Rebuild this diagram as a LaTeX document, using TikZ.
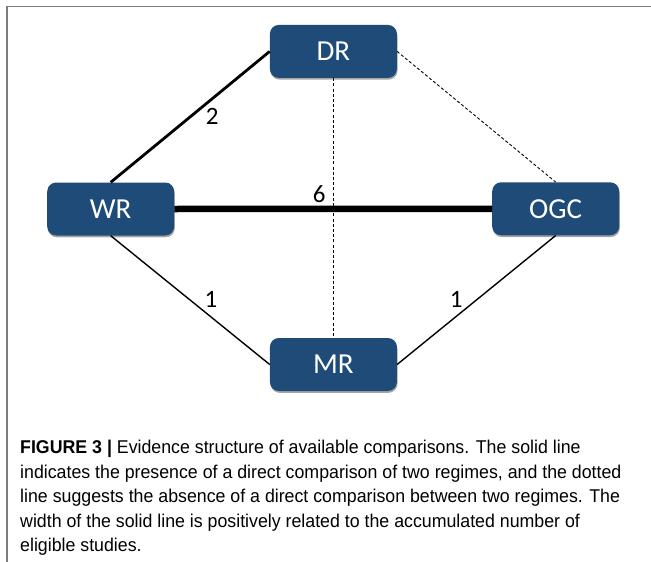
\documentclass[tikz,border=0pt]{standalone}
\usepackage{fontspec}
\setmainfont{Carlito}
\newfontfamily\capfont[FakeStretch=0.96]{Liberation Sans}
\usetikzlibrary{shadows}
\definecolor{boxblue}{RGB}{31,75,120}
\definecolor{framegray}{RGB}{125,125,125}
\tikzset{
  regime/.style={draw=none, fill=boxblue, rounded corners=9pt, minimum width=127pt, minimum height=53pt, inner sep=0pt,
    text=white, font=\fontsize{29}{31}\selectfont,
    drop shadow={shadow xshift=0.6pt, shadow yshift=-1.8pt, opacity=0.35, fill=black}},
  edgelabel/.style={font=\fontsize{25}{27}\selectfont, inner sep=0pt},
  thinlink/.style={line width=1.4pt},
  midlink/.style={line width=2.8pt},
  thicklink/.style={line width=6.5pt},
  nolink/.style={line width=0.9pt, dash pattern=on 3pt off 2.2pt},
  capline/.style={anchor=base west, inner sep=0pt, font=\capfont\fontsize{18.5}{24.5}\selectfont}
}
\begin{document}
\begin{tikzpicture}[x=1pt,y=-1pt]
\useasboundingbox (0,0) rectangle (651,562);
\draw[framegray, line width=1.8pt] (7,562) -- (7,6.5) -- (651,6.5);

\node[regime] (DR)  at (333.4,51.4)  {DR};
\node[regime] (WR)  at (110.7,209)   {WR};
\node[regime] (OGC) at (555.7,208.8) {OGC};
\node[regime] (MR)  at (333.4,364.5) {MR};

\draw[nolink] (DR.south) -- (MR.north);
\draw[nolink] (DR.east) -- (OGC.north);
\draw[midlink] (WR.north) -- node[edgelabel, pos=0.5, xshift=22pt] (l2) {2} (DR.west);
\draw[thicklink] (WR.east) -- node[edgelabel, pos=0.456, yshift=15pt] (l6) {6} (OGC.west);
\draw[thinlink] (WR.south) -- node[edgelabel, pos=0.63, yshift=17pt] (l1a) {1} (MR.west);
\draw[thinlink] (MR.east) -- node[edgelabel, pos=0.373, yshift=16.5pt] (l1b) {1} (OGC.south);

\node[capline] (c1) at (20,453.5) {\textbf{FIGURE 3 |} Evidence structure of available comparisons. The solid line};
\node[capline] (c2) at (20,478) {indicates the presence of a direct comparison of two regimes, and the dotted};
\node[capline] (c3) at (20,502.5) {line suggests the absence of a direct comparison between two regimes. The};
\node[capline] (c4) at (20,527) {width of the solid line is positively related to the accumulated number of};
\node[capline] (c5) at (20,551) {eligible studies.};
\end{tikzpicture}
\end{document}
